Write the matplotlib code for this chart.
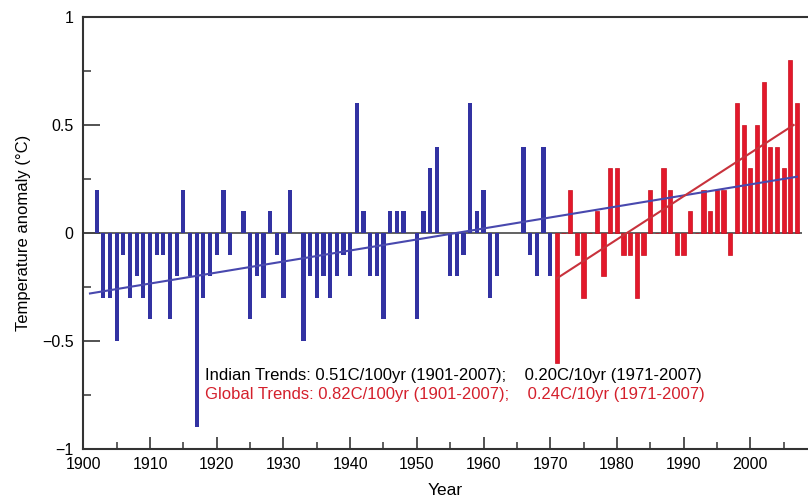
import matplotlib.pyplot as plt
import numpy as np
from matplotlib.ticker import MultipleLocator

plt.rcParams['font.family'] = ['Liberation Sans', 'DejaVu Sans']

# annual mean temperature anomaly over India (deg C)
years = np.arange(1901, 2008)
anomaly = [
    0.0, 0.2, -0.3, -0.3, -0.5, -0.1, -0.3, -0.2, -0.3, -0.4,   # 1901-1910
    -0.1, -0.1, -0.4, -0.2, 0.2, -0.2, -0.9, -0.3, -0.2, -0.1,  # 1911-1920
    0.2, -0.1, 0.0, 0.1, -0.4, -0.2, -0.3, 0.1, -0.1, -0.3,     # 1921-1930
    0.2, 0.0, -0.5, -0.2, -0.3, -0.2, -0.3, -0.2, -0.1, -0.2,   # 1931-1940
    0.6, 0.1, -0.2, -0.2, -0.4, 0.1, 0.1, 0.1, 0.0, -0.4,       # 1941-1950
    0.1, 0.3, 0.4, 0.0, -0.2, -0.2, -0.1, 0.6, 0.1, 0.2,        # 1951-1960
    -0.3, -0.2, 0.0, 0.0, 0.0, 0.4, -0.1, -0.2, 0.4, -0.2,      # 1961-1970
    -0.6, 0.0, 0.2, -0.1, -0.3, 0.0, 0.1, -0.2, 0.3, 0.3,       # 1971-1980
    -0.1, -0.1, -0.3, -0.1, 0.2, 0.0, 0.3, 0.2, -0.1, -0.1,     # 1981-1990
    0.1, 0.0, 0.2, 0.1, 0.2, 0.2, -0.1, 0.6, 0.5, 0.3,          # 1991-2000
    0.5, 0.7, 0.4, 0.4, 0.3, 0.8, 0.6,                          # 2001-2007
]
anomaly = np.array(anomaly)
split_year = 1971

# linear trends (deg C per year) and their starting values
trend_long = 0.0051     # 0.51C/100yr, 1901-2007
trend_long_start = -0.28
trend_recent = 0.020    # 0.20C/10yr, 1971-2007
trend_recent_start = -0.21

fig = plt.figure(figsize=(8.08, 4.98), dpi=100)
ax = fig.add_axes([0.1031, 0.0984, 0.8969, 0.8675])

early = years < split_year
ax.hlines(0, 1900, years[-1] + 0.7, color='#555555', lw=1.3, zorder=1)
ax.bar(years[early], anomaly[early], width=0.64, color='#3232a2', zorder=2)
ax.bar(years[~early], anomaly[~early], width=0.64, color='#e3182b',
       edgecolor='#c8101f', linewidth=0.5, zorder=2)

x1 = np.array([years[0], years[-1]])
ax.plot(x1, trend_long_start + trend_long * (x1 - x1[0]), color='#4848ae', lw=1.5, zorder=3)
x2 = np.array([split_year, years[-1] - 0.5])
ax.plot(x2, trend_recent_start + trend_recent * (x2 - x2[0]), color='#c8323c', lw=1.5, zorder=3)

ax.text(1918.2, -0.66, 'Indian Trends: 0.51C/100yr (1901-2007);    0.20C/10yr (1971-2007)',
        fontsize=11.95, color='black', va='center')
ax.text(1918.2, -0.748, 'Global Trends: 0.82C/100yr (1901-2007);    0.24C/10yr (1971-2007)',
        fontsize=11.95, color='#d4202c', va='center')

ax.set_xlim(1900, 2008.65)
ax.set_ylim(-1, 1)
ax.xaxis.set_major_locator(MultipleLocator(10))
ax.xaxis.set_minor_locator(MultipleLocator(5))
ax.yaxis.set_major_locator(MultipleLocator(0.5))
ax.yaxis.set_minor_locator(MultipleLocator(0.25))
ax.set_xticks(np.arange(1900, 2001, 10))
ax.set_yticks([-1, -0.5, 0, 0.5, 1])
ax.set_yticklabels(['\u22121', '\u22120.5', '0', '0.5', '1'])

ax.tick_params(axis='x', which='major', direction='in', length=9, width=1.3, pad=6,
               labelsize=11.5, color='#444444')
ax.tick_params(axis='x', which='minor', direction='in', length=5, width=1.2, color='#444444')
ax.tick_params(axis='y', which='major', direction='in', length=12, width=1.3, pad=7,
               labelsize=11.5, color='#444444')
ax.tick_params(axis='y', which='minor', direction='in', length=6, width=1.2, color='#444444')

for side in ['left', 'bottom', 'top']:
    ax.spines[side].set_linewidth(1.5)
    ax.spines[side].set_color('#333333')
ax.spines['right'].set_visible(False)

ax.set_xlabel('Year', fontsize=12.5, labelpad=8)
ax.set_ylabel('Temperature anomaly (\u00b0C)', fontsize=12, labelpad=8)

fig.savefig('out.png', dpi=100)
